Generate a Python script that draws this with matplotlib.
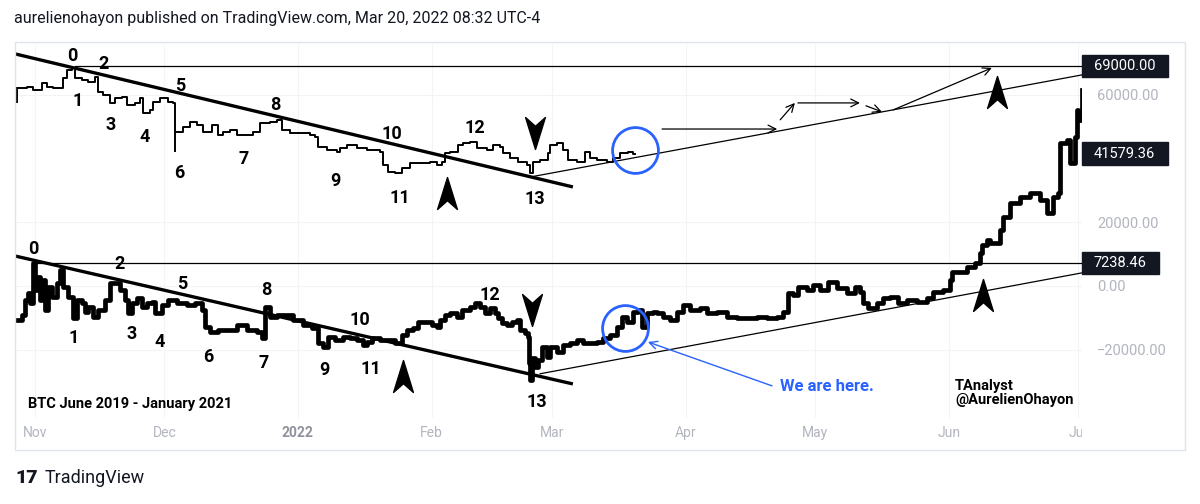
import datetime as dt
import matplotlib
matplotlib.use("Agg")
import matplotlib.pyplot as plt
from matplotlib.path import Path
from matplotlib.patches import Rectangle
from matplotlib.transforms import blended_transform_factory

plt.rcParams['font.family'] = ['Roboto', 'DejaVu Sans']

# BTC Nov 2021 - Mar 2022 (x = days since 2021-11-01, y = price in thousands)
top_days = [-4.2, -3.5, -1.9, -0.5, 1.6, 2.8, 4.2, 5.8, 6.5, 7.4,
            8.6, 9.3, 10.9, 12.3, 13.9, 14.6, 15.8, 17.4, 18.6, 20.2,
            21.3, 23.2, 24.4, 25.1, 26.7, 27.4, 29.0, 30.9, 32.0, 32.5,
            33.2, 34.3, 36.0, 37.6, 39.0, 41.1, 42.5, 43.6, 45.2, 46.9,
            49.2, 50.6, 52.2, 54.5, 56.1, 57.3, 59.2, 61.5, 63.8, 65.0,
            65.7, 67.7, 70.1, 70.8, 72.4, 74.7, 77.0, 80.0, 80.7, 81.9,
            83.5, 85.2, 87.0, 89.3, 91.6, 93.3, 94.4, 95.1, 96.3, 98.1,
            99.3, 100.9, 102.6, 104.9, 106.3, 107.9, 108.6, 110.2, 112.1, 114.2,
            114.8, 115.5, 117.2, 119.0, 119.5, 121.1, 122.5, 123.7, 125.8, 127.6,
            128.8, 130.4, 132.7, 134.1, 135.7, 137.6, 138.7, 139.2]
top_price = [62.2, 62.2, 62.5, 61.6, 63.8, 62.5, 62.2, 62.2, 65.3, 67.9,
             68.5, 65.3, 64.7, 64.1, 65.7, 60.9, 60.0, 57.5, 59.1, 59.4,
             56.9, 57.5, 59.1, 54.4, 55.3, 57.8, 59.1, 57.8, 57.5, 48.4,
             48.4, 50.0, 51.5, 50.6, 48.4, 50.6, 47.4, 48.4, 49.0, 47.4,
             47.4, 48.4, 51.2, 51.5, 52.2, 49.0, 48.1, 48.1, 47.4, 46.8,
             43.7, 42.7, 42.1, 43.4, 44.3, 43.4, 42.7, 42.1, 38.0, 35.8,
             35.5, 37.1, 38.6, 38.6, 39.0, 38.0, 39.0, 41.8, 42.1, 44.3,
             44.9, 45.2, 43.4, 42.7, 44.3, 43.7, 41.8, 40.2, 39.0, 38.0,
             35.5, 39.0, 39.6, 41.8, 44.3, 44.9, 42.7, 39.6, 39.0, 42.1,
             40.2, 39.6, 39.0, 40.2, 41.8, 42.1, 41.6, 41.6]
top_wick_days = [-4.2, 32.5]
top_wick_low = [57.5, 42.1]
top_wick_high = [62.2, 48.4]

# BTC June 2019 - January 2021 bars pattern, projected onto the same axes
bot_days = [-4.2, -3.0, -2.3, -1.6, -1.2, -0.5, 0.0, 0.5, 1.2, 1.6,
            2.3, 3.0, 3.9, 5.1, 5.8, 6.5, 7.7, 8.8, 9.7, 10.9,
            11.6, 12.3, 13.5, 14.6, 16.2, 17.4, 18.6, 19.7, 20.9, 21.6,
            22.5, 23.7, 24.8, 26.0, 27.1, 27.8, 29.5, 30.9, 32.9, 35.3,
            37.1, 38.7, 39.4, 40.6, 42.5, 44.5, 46.9, 49.2, 51.5, 52.7,
            53.4, 54.5, 56.1, 58.0, 59.9, 62.2, 64.3, 65.7, 66.8, 68.0,
            69.6, 71.5, 73.1, 74.7, 76.1, 77.0, 78.2, 80.0, 81.9, 83.5,
            85.2, 86.3, 87.7, 88.9, 90.9, 92.1, 93.3, 94.0, 95.1, 96.3,
            97.9, 99.1, 100.9, 102.1, 103.2, 104.4, 105.6, 106.7, 107.4, 108.4,
            109.5, 110.7, 111.8, 112.5, 113.7, 114.4, 114.6, 114.8, 115.3, 116.0,
            116.7, 117.6, 118.8, 119.5, 121.1, 122.5, 124.1, 125.8, 127.1, 128.8,
            130.4, 131.8, 133.4, 135.0, 136.2, 137.3, 138.7, 139.9, 140.8, 142.0,
            143.4, 144.3, 145.7, 147.3, 149.0, 150.3, 151.9, 154.3, 155.9, 158.2,
            160.6, 162.9, 165.2, 167.5, 169.8, 172.2, 173.5, 174.7, 175.9, 177.0,
            179.1, 180.5, 182.1, 184.0, 186.1, 188.4, 190.3, 191.4, 192.1, 193.3,
            195.4, 196.7, 198.4, 200.2, 202.3, 204.6, 207.0, 208.4, 210.7, 212.3,
            212.8, 214.7, 216.2, 218.1, 219.3, 219.7, 220.9, 221.6, 223.9, 224.6,
            226.2, 228.5, 230.9, 233.2, 234.8, 236.2, 237.4, 237.8, 239.4, 240.1,
            241.3, 241.8, 242.0, 242.9]
bot_price = [-10.7, -9.1, -4.4, -2.2, -5.3, 7.2, -1.3, 2.8, -4.4, 1.9,
             -7.5, -0.3, -3.5, 0.9, 5.0, -0.3, -3.5, -10.1, -4.4, -5.3,
             -8.2, -6.6, -9.7, -7.5, -4.4, 0.9, 0.9, -1.3, -4.4, -8.5,
             -5.3, -3.8, -6.6, -5.3, -5.0, -8.5, -6.0, -4.4, -5.3, -6.0,
             -5.3, -7.5, -12.9, -14.5, -13.8, -13.8, -12.3, -13.8, -14.5, -16.3,
             -6.6, -9.7, -9.1, -9.1, -10.7, -12.3, -13.2, -17.9, -19.2, -16.0,
             -17.0, -16.0, -16.3, -17.0, -18.5, -17.6, -16.3, -17.0, -17.0, -17.9,
             -15.4, -13.8, -13.2, -11.3, -11.3, -12.3, -12.9, -10.7, -9.1, -8.5,
             -9.7, -7.5, -6.6, -5.3, -6.6, -8.5, -6.9, -8.5, -10.1, -11.6,
             -12.3, -11.3, -10.7, -13.8, -14.8, -16.0, -24.2, -29.5, -22.6, -25.4,
             -23.2, -19.2, -22.3, -19.2, -20.7, -18.5, -17.9, -17.0, -17.9, -17.9,
             -17.6, -16.3, -15.4, -12.9, -9.7, -11.3, -8.2, -7.5, -12.9, -8.5,
             -8.2, -8.5, -9.7, -10.7, -8.2, -6.0, -7.5, -6.9, -8.5, -8.2,
             -9.7, -10.1, -10.1, -9.7, -10.1, -9.7, -8.2, -2.2, -2.8, -0.3,
             -1.3, 0.3, -1.3, 1.3, -0.6, -2.2, -0.3, -1.9, -5.3, -6.9,
             -5.3, -3.8, -3.5, -5.3, -4.4, -5.0, -3.8, -1.9, -1.3, 1.9,
             4.4, 4.4, 6.0, 7.2, 10.4, 12.9, 14.5, 13.5, 17.6, 21.7,
             26.1, 28.0, 29.2, 27.0, 22.9, 28.0, 29.2, 44.9, 45.9, 38.6,
             46.8, 55.3, 52.2, 61.6]

# drawings
down_top = ([-4.6, 124.8], [72.9, 31.1])
down_bot = ([-4.6, 124.8], [9.4, -30.8])
up_top = ([114.8, 242.9], [34.2, 66.3])
up_bot = ([117.2, 242.9], [-27.6, 4.1])
level_start = [9.3, -0.5]
level_y = [69.0, 7.23846]
path_arrows = [((145.5, 49.3), (172.2, 49.3)),
               ((172.9, 52.2), (176.3, 57.5)),
               ((177.0, 57.5), (191.4, 57.5)),
               ((192.8, 56.6), (196.5, 54.7)),
               ((199.1, 55.3), (222.0, 68.5))]
up_mark_x = [95.6, 223.2, 85.4, 220.0]
up_mark_y = [29.2, 61.0, -28.3, -2.8]
down_mark_x = [116.0, 115.3]
down_mark_y = [48.1, -7.5]
circle_x = [139.2, 136.9]
circle_y = [42.7, -13.2]

top_wave_x = [8.6, 10.0, 16.0, 17.6, 25.5, 33.6, 33.4, 48.5, 55.7, 69.6, 82.8, 84.7, 102.1, 116.0]
top_wave_y = [72.3, 58.1, 69.7, 50.6, 46.8, 62.8, 35.5, 39.9, 56.9, 33.0, 47.8, 27.6, 49.6, 27.3]
bot_wave_x = [-0.5, 9.0, 19.5, 22.5, 29.0, 34.1, 40.1, 53.1, 53.6, 67.1, 75.4, 78.0, 105.6, 116.5]
bot_wave_y = [11.6, -16.3, 6.9, -15.1, -17.6, 0.6, -22.3, -24.2, -1.3, -26.4, -10.7, -26.1, -2.8, -36.4]

base = dt.date(2021, 11, 1)
month_dates = [dt.date(2021, 11, 1), dt.date(2021, 12, 1), dt.date(2022, 1, 1),
               dt.date(2022, 2, 1), dt.date(2022, 3, 1), dt.date(2022, 4, 1),
               dt.date(2022, 5, 1), dt.date(2022, 6, 1), dt.date(2022, 7, 1)]
month_labels = ['Nov', 'Dec', '2022', 'Feb', 'Mar', 'Apr', 'May', 'Jun', 'Jul']
month_days = [(d - base).days for d in month_dates]

price_ticks = [60, 20, 0, -20]
price_tick_labels = ['60000.00', '20000.00', '0.00', '\u221220000.00']
box_values = [69.0, 41.57936, 7.23846]
box_labels = ['69000.00', '41579.36', '7238.46']

W, H = 1200, 504
fig = plt.figure(figsize=(12, 5.04), dpi=100)
ax = fig.add_axes([15 / W, (H - 418) / H, 1067 / W, 373 / H])

ax.plot(top_days, top_price, drawstyle='steps-post', color='black', lw=1.4)
ax.vlines(top_wick_days, top_wick_low, top_wick_high, color='black', lw=1.4)
ax.plot(bot_days, bot_price, drawstyle='steps-post', color='black', lw=3.4)

ax.plot(*down_top, color='black', lw=2.4, solid_capstyle='butt')
ax.plot(*down_bot, color='black', lw=2.4, solid_capstyle='butt')
ax.plot(*up_top, color='black', lw=0.9)
ax.plot(*up_bot, color='black', lw=0.9)
for x0, y0 in zip(level_start, level_y):
    ax.plot([x0, 242.9], [y0, y0], color='black', lw=0.9)

for (p0, p1) in path_arrows:
    ax.annotate('', xy=p1, xytext=p0,
                arrowprops=dict(arrowstyle='->', color='black', lw=0.9,
                                mutation_scale=14, shrinkA=0, shrinkB=0))

up_path = Path([(0, 1), (0.62, -1), (0, -0.45), (-0.62, -1), (0, 1)],
               [Path.MOVETO, Path.LINETO, Path.LINETO, Path.LINETO, Path.CLOSEPOLY])
down_path = Path([(0, -1), (0.62, 1), (0, 0.45), (-0.62, 1), (0, -1)],
                 [Path.MOVETO, Path.LINETO, Path.LINETO, Path.LINETO, Path.CLOSEPOLY])
ax.plot(up_mark_x, up_mark_y, ls='none', marker=up_path, ms=23, color='black')
ax.plot(down_mark_x, down_mark_y, ls='none', marker=down_path, ms=23, color='black')

blue = '#2962ff'
ax.plot(circle_x, circle_y, ls='none', marker='o', ms=33, mfc='none', mec=blue, mew=2)
ax.annotate('', xy=(142.2, -17.6), xytext=(171.0, -31.4),
            arrowprops=dict(arrowstyle='->', color=blue, lw=1, mutation_scale=14,
                            shrinkA=0, shrinkB=0))
ax.text(172.9, -31.7, 'We are here.', color=blue, fontsize=12, fontweight='bold',
        ha='left', va='center')

for i, (x, y) in enumerate(zip(top_wave_x, top_wave_y)):
    ax.text(x, y, str(i), ha='center', va='center', fontsize=13, fontweight='bold')
for i, (x, y) in enumerate(zip(bot_wave_x, bot_wave_y)):
    ax.text(x, y, str(i), ha='center', va='center', fontsize=13, fontweight='bold')

ax.text(-1.6, -37.1, 'BTC June 2019 - January 2021', fontsize=10.5, fontweight='bold',
        ha='left', va='center')
ax.text(213.5, -33.6, 'TAnalyst\n@AurelienOhayon', fontsize=10.5, fontweight='bold',
        ha='left', va='center', linespacing=1.0)

# axes / scales
ax.set_xlim(-4.64, 242.92)
ax.set_ylim(-41.5, 75.7)
for s in ax.spines.values():
    s.set_visible(False)
ax.set_xticks(month_days, month_labels)
ax.yaxis.tick_right()
ax.set_yticks(price_ticks, price_tick_labels)
ax.tick_params(axis='x', length=0, pad=6, labelsize=10, labelcolor='#b2b5be')
ax.tick_params(axis='y', length=0, pad=11, labelsize=10.5, labelcolor='#b2b5be')
for lbl in ax.get_xticklabels():
    if lbl.get_text() == '2022':
        lbl.set_color('#8f929b')
        lbl.set_fontweight('bold')
ax.grid(True, color='#f3f4f7', lw=0.8)
ax.set_axisbelow(True)

tr = blended_transform_factory(ax.transAxes, ax.transData)
for v, lab in zip(box_values, box_labels):
    wpx = 9 * len(lab) + 14
    ax.add_patch(Rectangle((1.0, v - 3.5), wpx / 1067, 7.0, transform=tr,
                           color='#131722', clip_on=False, zorder=5))
    ax.text(1 + 12 / 1067, v, lab, transform=tr, color='white', fontsize=10.5,
            ha='left', va='center', clip_on=False, zorder=6)

# chart frame, cut-off of last month label
fig.add_artist(Rectangle((1082 / W, (H - 446) / H), 100 / W, 24 / H,
                         transform=fig.transFigure, color='white', zorder=5))
fig.add_artist(Rectangle((15 / W, (H - 450) / H), 1170 / W, 408 / H, fill=False,
                         ec='#e0e3eb', lw=1, transform=fig.transFigure, zorder=6))

fig.text(14 / W, 1 - 18 / H,
         'aurelienohayon published on TradingView.com, Mar 20, 2022 08:32 UTC-4',
         fontsize=11.5, color='#131722', va='center', ha='left')
fig.text(15 / W, 1 - 478 / H, '17', fontsize=14, fontweight='heavy',
         color='#131722', va='center', ha='left')
fig.text(45 / W, 1 - 478 / H, 'TradingView', fontsize=13, color='#131722',
         va='center', ha='left')

fig.savefig('out.png', dpi=100)
